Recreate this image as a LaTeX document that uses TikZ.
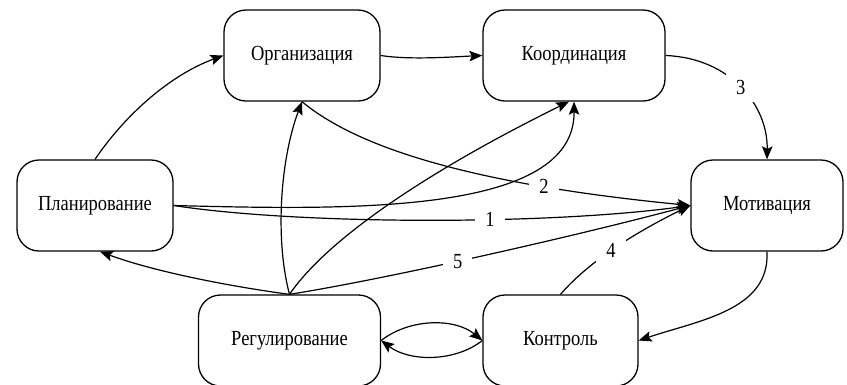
\documentclass[tikz,border=0pt]{standalone}
\usepackage{fontspec}
\setmainfont{Liberation Serif}[FakeStretch=0.86]
\usetikzlibrary{arrows.meta}
\tikzset{
  box/.style={draw, line width=1.3pt, rounded corners=22pt, minimum height=91pt, inner sep=0pt, font=\fontsize{21.5}{25}\selectfont},
  conn/.style={line width=1.2pt, -{Stealth[length=13pt,width=10.5pt,inset=2.5pt]}},
  lbl/.style={fill=white, inner xsep=10pt, inner ysep=7pt, font=\fontsize{21.5}{25}\selectfont}
}
\begin{document}
\begin{tikzpicture}[x=1pt,y=-1pt]
\useasboundingbox (0,0) rectangle (847,384);
\node[box, minimum width=156pt] (org) at (302,55.5) {Организация};
\node[box, minimum width=182pt] (koord) at (574,55.5) {Координация};
\node[box, minimum width=156pt] (plan) at (95,205.5) {Планирование};
\node[box, minimum width=152pt] (motiv) at (767,205.5) {Мотивация};
\node[box, minimum width=182pt] (reg) at (289.5,340.5) {Регулирование};
\node[box, minimum width=155pt] (kontr) at (560.5,340.5) {Контроль};

% Планирование -> Организация
\draw[conn] (plan.north) .. controls (125,115) and (170,75) .. (org.west);
% Организация -> Координация
\draw[conn] (org.east) .. controls (410,60) and (450,57) .. (koord.west);
% Координация -> Мотивация (3)
\draw[conn] (koord.east) .. controls (730,58) and (768,105) .. node[lbl, pos=0.5] (l3) {3} (motiv.north);
% Организация -> Мотивация (2)
\draw[conn] (org.south) .. controls (360,150) and (480,185) .. node[lbl, pos=0.74] (l2) {2} (motiv.west);
% Планирование -> Мотивация (1)
\draw[conn] (plan.east) .. controls (300,225) and (550,225) .. node[lbl, pos=0.61] (l1) {1} (motiv.west);
% Планирование -> Координация
\draw[conn] (plan.east) .. controls (350,210) and (575,215) .. (koord.south);
% Регулирование -> Организация
\draw[conn] (reg.north) .. controls (275,240) and (280,160) .. (org.south);
% Регулирование -> Координация
\draw[conn] (reg.north) .. controls (330,235) and (440,165) .. ([xshift=-5pt]koord.south);
% Регулирование -> Мотивация (5)
\draw[conn] (reg.north) .. controls (380,280) and (560,240) .. node[lbl, pos=0.46] (l5) {5} (motiv.west);
% Регулирование -> Планирование
\draw[conn] (reg.north) .. controls (220,285) and (150,270) .. ([xshift=5pt]plan.south);
% Контроль -> Мотивация (4)
\draw[conn] (kontr.north) .. controls (590,260) and (640,230) .. node[lbl, pos=0.45] (l4) {4} (motiv.west);
% Мотивация -> Контроль
\draw[conn] (motiv.south) .. controls (770,310) and (700,320) .. (kontr.east);
% Регулирование <-> Контроль
\draw[conn] (reg.east) .. controls (410,318) and (455,318) .. (kontr.west);
\draw[conn] (kontr.west) .. controls (455,362) and (410,362) .. (reg.east);
\end{tikzpicture}
\end{document}
